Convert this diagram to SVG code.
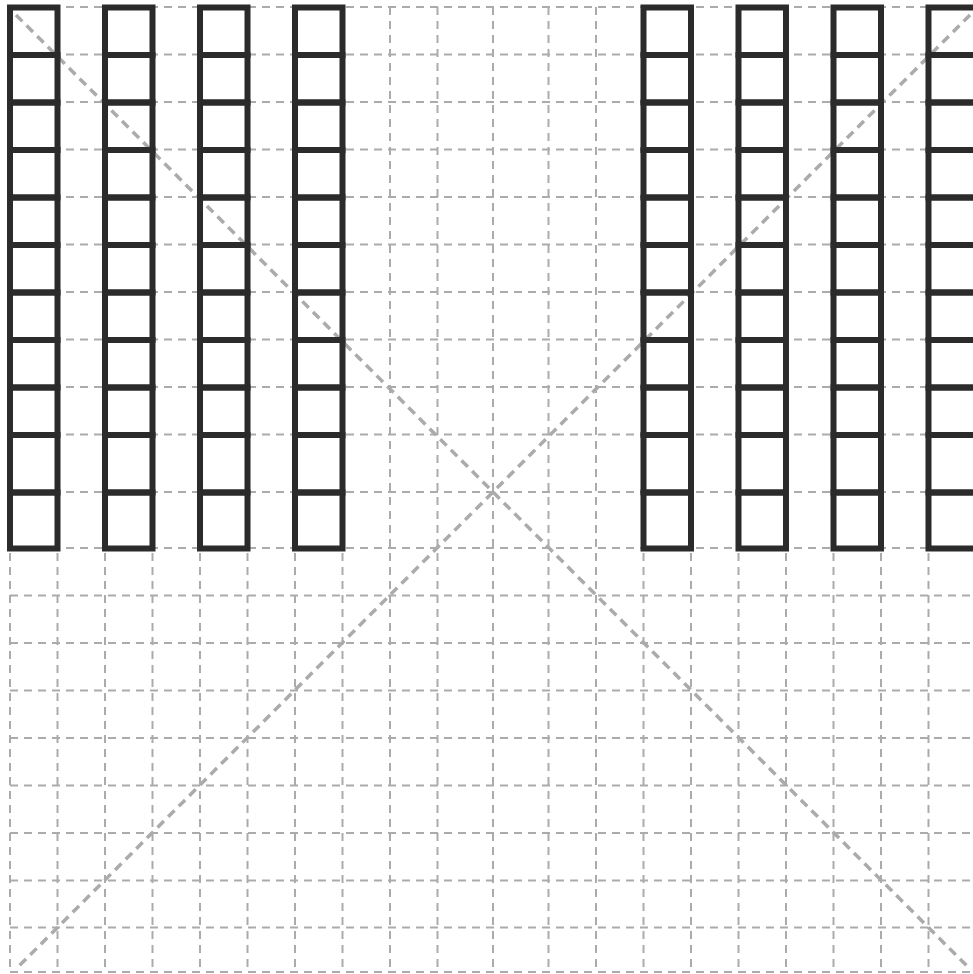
<svg xmlns="http://www.w3.org/2000/svg" width="973" height="974" viewBox="0 0 973 974">
<style>
.grid{stroke:#ababab;stroke-width:2;stroke-dasharray:8 6;fill:none}
.diag{stroke:#ababab;stroke-width:3.5;stroke-dasharray:9 6;fill:none}
.cell{fill:none;stroke:#2b2b2b;stroke-width:6;stroke-linejoin:miter}
</style>
<rect x="0" y="0" width="973" height="974" fill="#ffffff"/>
<g id="grid">
<path class="grid" d="M10 7V972M57.5 7V972M105 7V972M152.5 7V972M200 7V972M247.5 7V972M295 7V972M342.5 7V972M390 7V972M437.5 7V972M493 7V972M548.5 7V972M596 7V972M643.5 7V972M691 7V972M738.5 7V972M786 7V972M833.5 7V972M881 7V972M928.5 7V972"/>
<path class="grid" d="M10 7H973M10 54.5H973M10 102H973M10 149.5H973M10 197H973M10 244.5H973M10 292H973M10 339.5H973M10 387H973M10 434.5H973M10 492H973M10 548H973M10 595.5H973M10 643H973M10 690.5H973M10 738H973M10 785.5H973M10 833H973M10 880.5H973M10 927.5H973M10 972H973"/>
</g>
<g id="connectors">
<path class="diag" d="M16 15L969 968"/>
<path class="diag" d="M970 15L17 968"/>
</g>
<defs>
<g id="column">
<rect class="cell" x="0" y="0" width="47.5" height="47.5"/>
<rect class="cell" x="0" y="47.5" width="47.5" height="47.5"/>
<rect class="cell" x="0" y="95" width="47.5" height="47.5"/>
<rect class="cell" x="0" y="142.5" width="47.5" height="47.5"/>
<rect class="cell" x="0" y="190" width="47.5" height="47.5"/>
<rect class="cell" x="0" y="237.5" width="47.5" height="47.5"/>
<rect class="cell" x="0" y="285" width="47.5" height="47.5"/>
<rect class="cell" x="0" y="332.5" width="47.5" height="47.5"/>
<rect class="cell" x="0" y="380" width="47.5" height="47.5"/>
<rect class="cell" x="0" y="427.5" width="47.5" height="57.5"/>
<rect class="cell" x="0" y="485" width="47.5" height="56"/>
</g>
</defs>
<g id="col1"><use href="#column" x="10" y="7.5"/></g>
<g id="col2"><use href="#column" x="105" y="7.5"/></g>
<g id="col3"><use href="#column" x="200" y="7.5"/></g>
<g id="col4"><use href="#column" x="295" y="7.5"/></g>
<g id="col5"><use href="#column" x="643.5" y="7.5"/></g>
<g id="col6"><use href="#column" x="738.5" y="7.5"/></g>
<g id="col7"><use href="#column" x="833.5" y="7.5"/></g>
<g id="col8"><use href="#column" x="928.5" y="7.5"/></g>
</svg>
